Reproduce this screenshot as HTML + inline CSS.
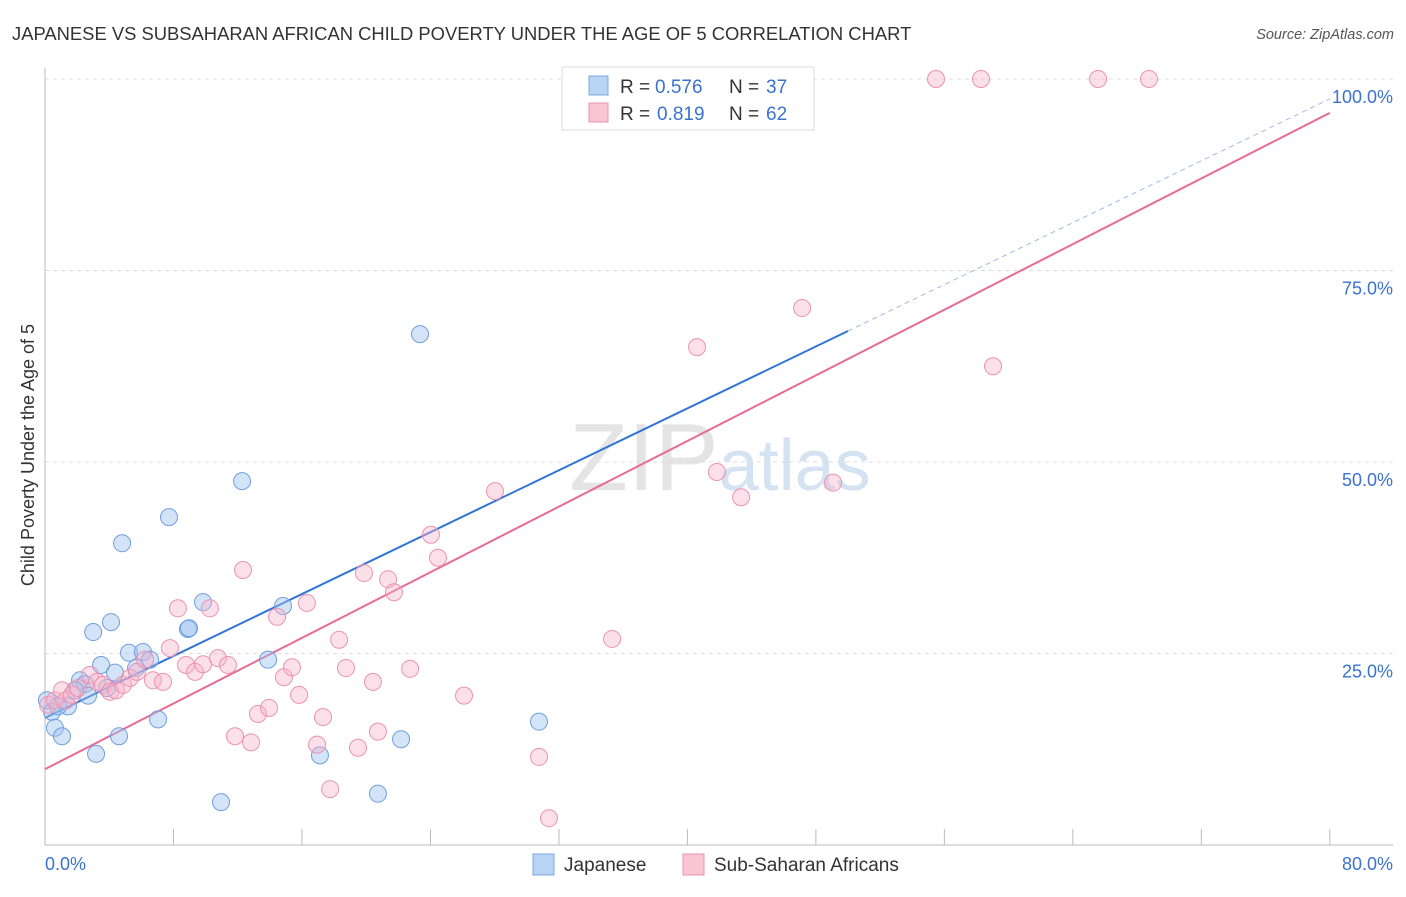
<!DOCTYPE html>
<html><head><meta charset="utf-8"><style>
body{margin:0;background:#fff;font-family:"Liberation Sans",sans-serif}
svg text{font-family:"Liberation Sans",sans-serif}
</style></head><body>
<svg id="chart" width="1406" height="892" viewBox="0 0 1406 892">
<text x="12" y="40" font-size="18.4" fill="#333">JAPANESE VS SUBSAHARAN AFRICAN CHILD POVERTY UNDER THE AGE OF 5 CORRELATION CHART</text>
<text x="1394" y="39" font-size="14.5" fill="#555" text-anchor="end" font-style="italic">Source: ZipAtlas.com</text>
<text x="720" y="490" font-size="96" fill="#e4e4e4" text-anchor="middle" font-family="Liberation Serif">ZIP<tspan fill="#d4e2f2" font-family="Liberation Sans" font-size="72">atlas</tspan></text>
<g id="grid"></g><g id="axes"></g><g id="lines"></g><g id="points"></g>
<text transform="translate(34,455) rotate(-90)" font-size="18" fill="#333" text-anchor="middle">Child Poverty Under the Age of 5</text>
<g>
<rect x="562" y="67" width="252" height="63" fill="#fff" stroke="#ddd"/>
<rect x="589" y="76" width="19" height="19" fill="#b8d4f5" stroke="#7aa8e0"/>
<rect x="589" y="103" width="19" height="19" fill="#f9c4d4" stroke="#eb93b1"/>
<text x="620" y="93" font-size="19" fill="#333">R =</text><text x="655" y="93" font-size="19" fill="#3a72d0">0.576</text>
<text x="729" y="93" font-size="19" fill="#333">N =</text><text x="766" y="93" font-size="19" fill="#3a72d0">37</text>
<text x="620" y="120" font-size="19" fill="#333">R =</text><text x="657" y="120" font-size="19" fill="#3a72d0">0.819</text>
<text x="729" y="120" font-size="19" fill="#333">N =</text><text x="766" y="120" font-size="19" fill="#3a72d0">62</text>
</g>
<g>
<rect x="533" y="854" width="21" height="21" fill="#b8d4f5" stroke="#7aa8e0"/>
<text x="564" y="871" font-size="19" fill="#333">Japanese</text>
<rect x="683" y="854" width="21" height="21" fill="#f9c4d4" stroke="#eb93b1"/>
<text x="714" y="871" font-size="19" fill="#333">Sub-Saharan Africans</text>
</g>
</svg>
<script>
const yTicks=[25,50,75,100];
const yTickLabels=["25.0%","50.0%","75.0%","100.0%"];
const xTicks=[0,8,16,24,32,40,48,56,64,72,80];
const jpX=[0.12,0.44,0.62,1.06,1.43,2.18,2.49,2.68,3.0,3.18,3.49,3.86,4.11,4.36,4.61,4.8,5.23,5.67,6.1,6.54,7.04,7.72,8.9,8.97,9.84,10.96,12.27,13.89,14.82,17.12,20.73,22.17,23.35,30.76,46.95,0.81,1.87];
const jpY=[18.9,17.4,15.3,14.2,18.1,21.5,21.0,19.5,27.8,11.9,23.5,20.5,29.1,22.5,14.2,39.4,25.1,23.1,25.2,24.2,16.4,42.8,28.2,28.3,31.7,5.6,47.5,24.2,31.2,11.7,6.7,13.8,66.7,16.1,100,18.1,20.2];
const ssX=[0.19,0.62,1.06,1.31,1.68,2.05,2.8,3.24,3.61,4.05,4.42,4.86,5.29,5.73,6.23,6.72,7.35,7.78,8.28,8.78,9.34,9.84,10.27,10.77,11.39,11.83,12.33,12.83,13.26,13.95,14.45,14.88,15.38,15.82,16.31,16.94,17.31,17.75,18.31,18.74,19.49,19.86,20.42,20.73,21.36,21.73,22.73,24.03,24.47,26.09,28.02,30.76,31.38,35.31,40.6,41.84,43.34,47.14,49.07,55.48,58.28,59.03,65.57,68.74];
const ssY=[18.3,18.9,20.2,18.9,19.6,20.5,22.2,21.3,20.9,20.0,20.2,20.9,21.8,22.6,24.2,21.5,21.3,25.7,30.9,23.5,22.6,23.6,30.9,24.4,23.5,14.2,35.9,13.4,17.1,17.9,29.8,21.9,23.2,19.6,31.6,13.1,16.7,7.3,26.8,23.1,12.7,35.5,21.3,14.8,34.7,33.0,23.0,40.5,37.5,19.5,46.2,11.5,3.5,26.9,65.0,48.7,45.4,70.1,47.3,100,100,62.5,100,100];
const jpLine=[16.6,1.01];
const ssLine=[9.9,1.071];
const X=v=>45+v*16.06, Y=v=>845-v*7.66;
const NS="http://www.w3.org/2000/svg";
function mk(tag,attrs,parent){const e=document.createElementNS(NS,tag);for(const k in attrs)e.setAttribute(k,attrs[k]);document.getElementById(parent).appendChild(e);return e;}
yTicks.forEach((t,i)=>{
 const g=mk('line',{x1:45,x2:1393,y1:Y(t),y2:Y(t),stroke:'#ddd','stroke-dasharray':'4,4'},'grid');
 
 
 const l=mk('text',{x:1393,y:Y(t)+24,'font-size':18,fill:'#3a72d0','text-anchor':'end'},'grid');
 l.textContent=yTickLabels[i];
 
 
});
const topGrid=mk('line',{x1:45,x2:1393,y1:79,y2:79,stroke:'#ddd','stroke-dasharray':'4,4'},'grid');


const ya=mk('line',{x1:45,x2:45,y1:68,y2:845,stroke:'#bbb'},'axes');


const xa=mk('line',{x1:45,x2:1393,y1:845,y2:845,stroke:'#bbb'},'axes');


xTicks.forEach(t=>{
  const tk=mk('line',{x1:X(t),x2:X(t),y1:845,y2:829,stroke:'#bbb'},'axes');
  
  
});
const x0=mk('text',{x:45,y:870,'font-size':18,fill:'#3a72d0'},'axes');x0.textContent='0.0%';


const x1=mk('text',{x:1393,y:870,'font-size':18,fill:'#3a72d0','text-anchor':'end'},'axes');x1.textContent='80.0%';


jpX.forEach((x,i)=>{
 const c=mk('circle',{cx:X(x),cy:Y(jpY[i]),r:8.5,fill:'rgba(160,196,240,0.45)',stroke:'#6f9ee0','stroke-width':1},'points');
 
 
});
ssX.forEach((x,i)=>{
 const c=mk('circle',{cx:X(x),cy:Y(ssY[i]),r:8.5,fill:'rgba(247,178,200,0.4)',stroke:'#eb93b1','stroke-width':1},'points');
 
 
});
const jl=mk('line',{x1:X(0),y1:Y(jpLine[0]),x2:X(50),y2:Y(jpLine[0]+50*jpLine[1]),stroke:'#2f74d6','stroke-width':2},'lines');


const jd=mk('line',{x1:X(50),y1:Y(jpLine[0]+50*jpLine[1]),x2:X(80),y2:Y(jpLine[0]+80*jpLine[1]),stroke:'#9dbbe6','stroke-width':1,'stroke-dasharray':'5,4'},'lines');


const sl=mk('line',{x1:X(0),y1:Y(ssLine[0]),x2:X(80),y2:Y(ssLine[0]+80*ssLine[1]),stroke:'#e76b94','stroke-width':2},'lines');


</script>
</body></html>
